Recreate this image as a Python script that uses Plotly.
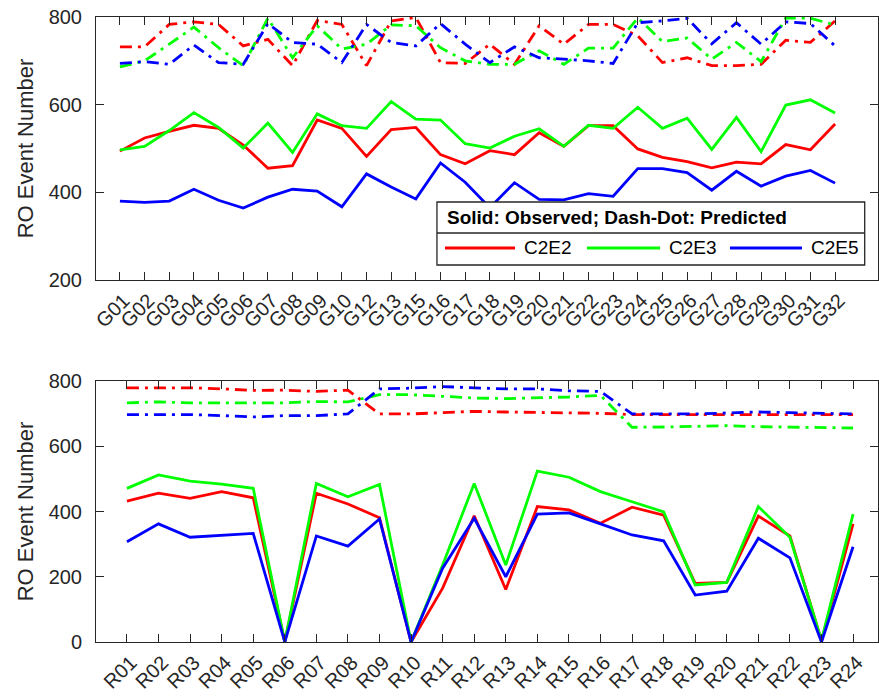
import plotly.graph_objects as go

# ---- data -------------------------------------------------------------
g_sites = ["G01", "G02", "G03", "G04", "G05", "G06", "G07", "G08", "G09", "G10",
           "G12", "G13", "G15", "G16", "G17", "G18", "G19", "G20", "G21", "G22",
           "G23", "G24", "G25", "G26", "G27", "G28", "G29", "G30", "G31", "G32"]

g_obs_c2e2 = [494, 524, 539, 553, 546, 508, 455, 461, 565, 546, 482, 543, 548, 486, 465,
              495, 486, 536, 505, 552, 552, 499, 480, 470, 456, 469, 465, 509, 497, 556]
g_obs_c2e3 = [497, 505, 541, 582, 548, 501, 558, 491, 579, 552, 546, 607, 567, 565, 511,
              501, 528, 545, 505, 553, 546, 594, 546, 569, 498, 571, 493, 599, 611, 581]
g_obs_c2e5 = [380, 377, 380, 407, 382, 364, 389, 407, 403, 367, 442, 412, 385, 467, 423,
              365, 422, 384, 383, 397, 391, 454, 454, 445, 405, 448, 414, 437, 450, 421]

g_pred_c2e2 = [732, 732, 783, 789, 783, 734, 749, 689, 792, 783, 689, 791, 799, 696, 694,
               738, 692, 780, 738, 783, 783, 757, 696, 707, 689, 689, 692, 747, 742, 791]
g_pred_c2e3 = [686, 700, 738, 777, 730, 689, 797, 707, 780, 727, 738, 782, 780, 730, 700,
               692, 692, 723, 692, 729, 729, 798, 744, 752, 704, 742, 698, 798, 797, 782]
g_pred_c2e5 = [694, 698, 692, 736, 696, 692, 785, 742, 738, 696, 783, 742, 734, 785, 738,
               696, 732, 707, 704, 700, 694, 787, 791, 797, 739, 787, 738, 789, 785, 734]

r_sites = ["R01", "R02", "R03", "R04", "R05", "R06", "R07", "R08", "R09", "R10", "R11", "R12",
           "R13", "R14", "R15", "R16", "R17", "R18", "R19", "R20", "R21", "R22", "R23", "R24"]

r_obs_c2e2 = [432, 456, 440, 461, 442, 0, 456, 423, 381, 0, 165, 387,
              161, 415, 405, 364, 413, 389, 180, 183, 386, 325, 3, 362]
r_obs_c2e3 = [471, 512, 493, 484, 471, 0, 486, 445, 483, 0, 236, 486,
              236, 524, 505, 461, 430, 399, 175, 183, 415, 321, 5, 392]
r_obs_c2e5 = [307, 362, 321, 326, 333, 0, 325, 294, 377, 0, 226, 379,
              200, 392, 396, 362, 328, 310, 144, 156, 318, 258, 0, 292]

r_pred_c2e2 = [779, 779, 779, 776, 771, 772, 768, 772, 699, 699, 702, 707,
               705, 704, 701, 701, 697, 696, 697, 697, 697, 697, 697, 697]
r_pred_c2e3 = [733, 736, 733, 733, 733, 733, 737, 736, 758, 758, 753, 748,
               746, 748, 751, 756, 658, 659, 662, 663, 660, 659, 658, 656]
r_pred_c2e5 = [697, 697, 697, 694, 690, 694, 694, 699, 776, 778, 783, 779,
               776, 776, 770, 768, 699, 699, 699, 702, 705, 703, 701, 699]

series_names = ["C2E2", "C2E3", "C2E5"]
series_colors = ["#ff0000", "#00ff00", "#0000ff"]

# ---- styling ----------------------------------------------------------
FONT = "Liberation Sans, Arial, Helvetica, sans-serif"
AXIS_COLOR = "#262626"
LINE_W = 2.8
DASHDOT = "12px,6px,3px,6px"

fig = go.Figure()


def add_panel(cats, observed, predicted, xa, ya):
    for name, color, pred in zip(series_names, series_colors, predicted):
        fig.add_trace(go.Scatter(x=cats, y=pred, mode="lines", name=name,
                                 line=dict(color=color, width=LINE_W, dash=DASHDOT),
                                 xaxis=xa, yaxis=ya, showlegend=False))
    for name, color, obs in zip(series_names, series_colors, observed):
        fig.add_trace(go.Scatter(x=cats, y=obs, mode="lines", name=name,
                                 line=dict(color=color, width=LINE_W),
                                 xaxis=xa, yaxis=ya, showlegend=False))


add_panel(g_sites, [g_obs_c2e2, g_obs_c2e3, g_obs_c2e5],
          [g_pred_c2e2, g_pred_c2e3, g_pred_c2e5], "x", "y")
add_panel(r_sites, [r_obs_c2e2, r_obs_c2e3, r_obs_c2e5],
          [r_pred_c2e2, r_pred_c2e3, r_pred_c2e5], "x2", "y2")

common_x = dict(type="category", showline=True, mirror="ticks", linecolor=AXIS_COLOR,
                linewidth=1, ticks="inside", ticklen=8, tickcolor=AXIS_COLOR,
                tickangle=-45, showgrid=False, zeroline=False, ticklabelshift=4,
                tickfont=dict(family=FONT, size=20, color=AXIS_COLOR))
common_y = dict(showline=True, mirror="ticks", linecolor=AXIS_COLOR, linewidth=1,
                ticks="inside", ticklen=8, tickcolor=AXIS_COLOR, showgrid=False,
                zeroline=False, ticklabelstandoff=9,
                tickfont=dict(family=FONT, size=20, color=AXIS_COLOR),
                title=dict(text="RO Event Number", standoff=8,
                           font=dict(family=FONT, size=22, color=AXIS_COLOR)))

top_bottom = (642 - 280) / 625
bot_top = (642 - 381) / 625

fig.update_layout(
    width=879, height=697,
    margin=dict(l=96, r=1, t=17, b=55),
    paper_bgcolor="white", plot_bgcolor="white",
    xaxis=dict(common_x, domain=[0, 1], anchor="y", range=[-0.97, 30.74]),
    yaxis=dict(common_y, domain=[top_bottom, 1], anchor="x", range=[200, 800],
               tickvals=[200, 400, 600, 800]),
    xaxis2=dict(common_x, domain=[0, 1], anchor="y2", range=[-0.98, 23.79]),
    yaxis2=dict(common_y, domain=[0, bot_top], anchor="x2", range=[0, 800],
                tickvals=[0, 200, 400, 600, 800]),
)

# ---- legend box in the upper panel (axis-domain coordinates) ----------
LX, LY = "x domain", "y domain"
box = dict(x0=0.436, x1=0.983, y0=0.057, y1=0.2966)
fig.add_shape(type="rect", xref=LX, yref=LY, **box,
              fillcolor="white", line=dict(color=AXIS_COLOR, width=1.3), layer="above")
fig.add_shape(type="line", xref=LX, yref=LY, x0=box["x0"], x1=box["x1"],
              y0=0.1787, y1=0.1787, line=dict(color=AXIS_COLOR, width=1.3), layer="above")
fig.add_annotation(xref=LX, yref=LY, x=0.4463, y=0.2377, xanchor="left", yanchor="middle",
                   text="<b>Solid: Observed; Dash-Dot: Predicted</b>", showarrow=False,
                   font=dict(family=FONT, size=19, color="black"))

entry_y = 0.1217
entry_lines = [(0.4463, 0.5358), (0.6279, 0.7212), (0.8107, 0.9028)]
for name, color, (x0, x1) in zip(series_names, series_colors, entry_lines):
    fig.add_shape(type="line", xref=LX, yref=LY, x0=x0, x1=x1, y0=entry_y, y1=entry_y,
                  line=dict(color=color, width=LINE_W), layer="above")
    fig.add_annotation(xref=LX, yref=LY, x=x1 + 0.009, y=entry_y, xanchor="left",
                       yanchor="middle", text=name, showarrow=False,
                       font=dict(family=FONT, size=19, color="black"))

fig.write_html("out.html")
